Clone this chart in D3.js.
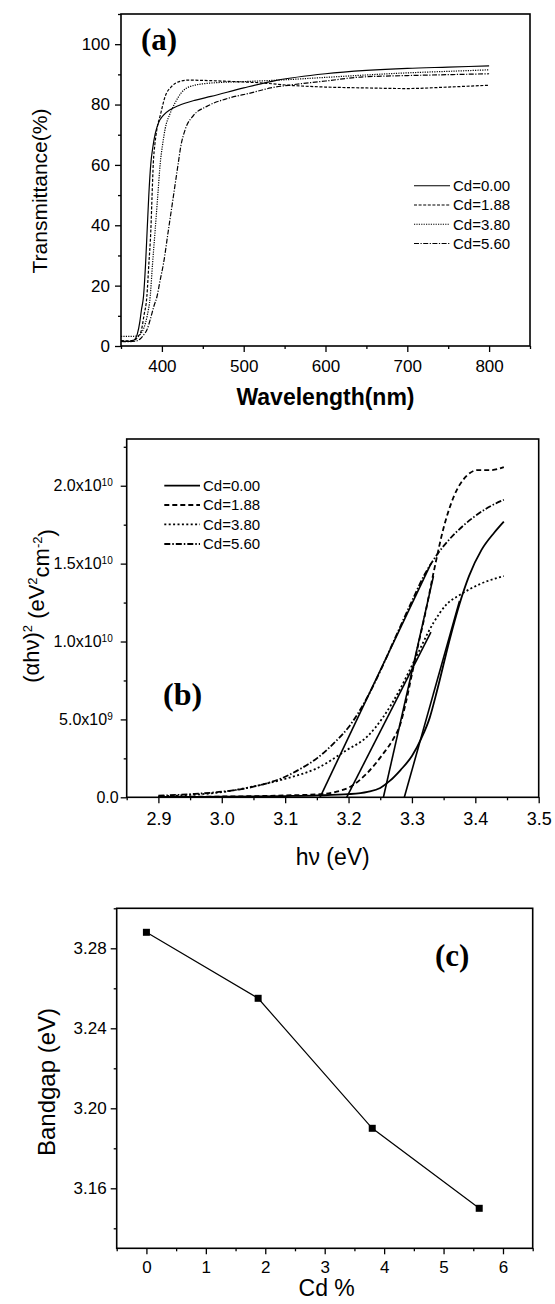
<!DOCTYPE html>
<html>
<head>
<meta charset="utf-8">
<style>
  body { margin: 0; background: #fff; }
  svg { display: block; font-family: "Liberation Sans", Arial, sans-serif; }
  .tick line { stroke: #000; stroke-width: 1.3; }
  .domain { display: none; }
  .tick text { fill: #000; }
  .frame { fill: none; stroke: #000; stroke-width: 1.6; }
  .curve { fill: none; stroke: #000; }
  .tag { font-family: "Liberation Serif", "Times New Roman", serif; font-weight: bold; }
</style>
</head>
<body>
<svg width="555" height="1304"></svg>
<script src="https://d3js.org/d3.v7.min.js"></script>
<script>
// ---- data ----
const cdLabels = ["Cd=0.00", "Cd=1.88", "Cd=3.80", "Cd=5.60"];

// (a) transmittance [wavelength nm, T %]
const transCd000 = [[350,1.6],[360,1.5],[366,2],[370,4],[373,8],[375,12],[377.5,16.4],[380,27],[382,38.5],[384,50],[386.5,60.6],[389,66],[392,70.5],[396,74],[402,76.5],[410,78.3],[420,79.6],[440,81.4],[460,82.7],[500,85.5],[540,88],[600,90.2],[650,91.3],[700,92],[750,92.4],[800,92.8]];
const transCd188 = [[350,1.8],[360,1.7],[368,2.2],[372,3.5],[375,5.3],[378,10],[381.6,16.4],[384,27],[386.5,38.5],[388,50],[389.5,60.6],[391.5,67],[394,72],[398,76.4],[404,82.7],[412,86],[422,87.7],[432,88.1],[450,88],[480,87.7],[520,87.2],[560,86.3],[600,85.8],[650,85.5],[700,85.3],[750,85.8],[800,86.4]];
const transCd380 = [[350,3.2],[360,3.2],[370,3.3],[374,4],[378,6],[382,10],[385.7,16.4],[388.5,27],[391.8,38.5],[395,50],[398,60.6],[401,67],[404,72],[410,77],[416,80.5],[424,84],[434.7,86],[459,87.1],[500,87.6],[550,88.2],[600,89],[650,89.8],[700,90.5],[750,91],[800,91.5]];
const transCd560 = [[350,1.5],[360,1.4],[368,1.6],[374,2.5],[378,3.8],[381.6,5.3],[386,9],[390,13],[394,16.4],[398,22],[402,27.4],[408,38.5],[414,49.5],[420,60.6],[423,66],[428.6,71.8],[438.7,76.4],[455,79.4],[480,82],[508,83.8],[533,85.5],[561,86.6],[600,87.8],[643,89.1],[700,89.6],[750,89.9],[800,90.2]];

// (b) (alpha h nu)^2 [eV, eV^2 cm^-2]
const absCd000 = [[2.9,0.02e9],[3.0,0.04e9],[3.1,0.08e9],[3.15,0.12e9],[3.2,0.2e9],[3.23,0.35e9],[3.25,0.6e9],[3.265,1.05e9],[3.282,1.75e9],[3.3,2.65e9],[3.315,3.8e9],[3.328,5.1e9],[3.34,6.9e9],[3.36,10.2e9],[3.375,12.4e9],[3.39,14.2e9],[3.41,15.9e9],[3.43,17.0e9],[3.445,17.7e9]];
const absCd188 = [[2.9,0.03e9],[3.0,0.05e9],[3.1,0.12e9],[3.155,0.2e9],[3.18,0.35e9],[3.203,0.68e9],[3.229,1.54e9],[3.255,2.82e9],[3.27,3.7e9],[3.282,4.74e9],[3.29,6.0e9],[3.3,7.9e9],[3.31,9.8e9],[3.32,11.6e9],[3.334,14.4e9],[3.35,17.3e9],[3.366,19.3e9],[3.387,20.66e9],[3.403,21.0e9],[3.424,21.0e9],[3.445,21.2e9]];
const absCd380 = [[2.9,0.06e9],[2.95,0.15e9],[3.0,0.33e9],[3.055,0.74e9],[3.103,1.22e9],[3.15,1.86e9],[3.197,3.03e9],[3.229,3.88e9],[3.255,5.17e9],[3.282,7.0e9],[3.303,8.7e9],[3.334,11.2e9],[3.355,12.4e9],[3.376,13.0e9],[3.408,13.7e9],[3.445,14.2e9]];
const absCd560 = [[2.9,0.1e9],[2.95,0.2e9],[3.0,0.36e9],[3.05,0.68e9],[3.1,1.32e9],[3.125,1.85e9],[3.15,2.5e9],[3.175,3.4e9],[3.2,4.5e9],[3.232,6.6e9],[3.25,8.1e9],[3.271,10.0e9],[3.3,12.6e9],[3.32,14.3e9],[3.34,15.6e9],[3.36,16.6e9],[3.38,17.4e9],[3.398,18.0e9],[3.42,18.6e9],[3.445,19.1e9]];

// tangent fits: x-intercept and upper end point
const fitIntercepts = [3.288, 3.255, 3.197, 3.155];
const fitEnds = [[3.375, 12.6e9], [3.334, 14.2e9], [3.33, 10.6e9], [3.33, 15.0e9]];

// (c) bandgap vs Cd %
const cdPercent = [0, 1.88, 3.80, 5.60];
const bandgap = [3.288, 3.255, 3.19, 3.15];

// ticks
const aXTicks = [400, 500, 600, 700, 800];
const aXMinor = [350, 450, 550, 650, 750, 850];
const aYTicks = [0, 20, 40, 60, 80, 100];
const aYMinor = [10, 30, 50, 70, 90, 110];
const bXTicks = [2.9, 3.0, 3.1, 3.2, 3.3, 3.4, 3.5];
const bXMinor = [2.85, 2.95, 3.05, 3.15, 3.25, 3.35, 3.45];
const bYTicks = [0, 5e9, 1e10, 1.5e10, 2e10];
const bYMinor = [2.5e9, 7.5e9, 1.25e10, 1.75e10, 2.25e10];
const bYTickLabels = [["0.0", ""], ["5.0x10", "9"], ["1.0x10", "10"], ["1.5x10", "10"], ["2.0x10", "10"]];
const cXTicks = [0, 1, 2, 3, 4, 5, 6];
const cXMinor = [-0.5, 0.5, 1.5, 2.5, 3.5, 4.5, 5.5, 6.5];
const cYTicks = [3.16, 3.20, 3.24, 3.28];
const cYMinor = [3.14, 3.18, 3.22, 3.26, 3.30];

const svg = d3.select("svg");

function drawAxes(x, y, box, cfg) {
    svg.append("g")
        .attr("transform", `translate(0,${box.bottom})`)
        .call(d3.axisBottom(x).tickValues(cfg.xTicks).tickSizeInner(6).tickSizeOuter(0)
            .tickPadding(cfg.xPad).tickFormat(cfg.xFmt))
        .call(g => g.selectAll("text").style("font-size", cfg.xFont + "px"))
    svg.append("g")
        .attr("transform", `translate(0,${box.bottom})`)
        .call(d3.axisBottom(x).tickValues(cfg.xMinor).tickSizeInner(3).tickSizeOuter(0).tickFormat(""))
    let yAxis = svg.append("g")
        .attr("transform", `translate(${box.left},0)`)
        .call(d3.axisLeft(y).tickValues(cfg.yTicks).tickSizeInner(6).tickSizeOuter(0)
            .tickPadding(cfg.yPad).tickFormat(cfg.yFmt))
        .call(g => g.selectAll("text").style("font-size", cfg.yFont + "px"))
    svg.append("g")
        .attr("transform", `translate(${box.left},0)`)
        .call(d3.axisLeft(y).tickValues(cfg.yMinor).tickSizeInner(3).tickSizeOuter(0).tickFormat(""))
    svg.append("rect")
        .attr("class", "frame")
        .attr("x", box.left).attr("y", box.top)
        .attr("width", box.right - box.left).attr("height", box.bottom - box.top)
    return yAxis
}

function legend(x0, x1, ys, dashes, width, fontSize) {
    cdLabels.forEach((lab, i) => {
        svg.append("line")
            .attr("x1", x0).attr("x2", x1).attr("y1", ys[i]).attr("y2", ys[i])
            .attr("stroke", "#000").attr("stroke-width", width)
            .attr("stroke-dasharray", dashes[i])
        svg.append("text")
            .attr("x", x1 + 3).attr("y", ys[i] + fontSize * 0.36)
            .style("font-size", fontSize + "px")
            .text(lab)
    })
}

// ---------------- panel (a) ----------------
const boxA = { left: 121, right: 530, top: 14, bottom: 346 };
const xA = d3.scaleLinear().domain([350, 850]).range([boxA.left, boxA.right]);
const yA = d3.scaleLinear().domain([0, 110]).range([boxA.bottom, boxA.top]);
drawAxes(xA, yA, boxA, {
    xTicks: aXTicks, xMinor: aXMinor, xPad: 8, xFont: 17, xFmt: d3.format("d"),
    yTicks: aYTicks, yMinor: aYMinor, yPad: 5, yFont: 17, yFmt: d3.format("d")
});
const dashA = [null, "3,1.6", "1.2,1.2", "5,1.5,1.2,1.5"];
const lineA = d3.line().x(d => xA(d[0])).y(d => yA(d[1])).curve(d3.curveMonotoneX);
[transCd000, transCd188, transCd380, transCd560].forEach((s, i) => {
    svg.append("path").attr("class", "curve").attr("d", lineA(s))
        .attr("stroke-width", 1.2).attr("stroke-dasharray", dashA[i])
});
legend(414, 450, [185.7, 205, 224.3, 243.5], dashA, 1.1, 15);
svg.append("text").attr("class", "tag").attr("x", 141).attr("y", 50)
    .style("font-size", "31px").text("(a)");
svg.append("text")
    .attr("transform", "translate(47,191) rotate(-90)")
    .attr("text-anchor", "middle").style("font-size", "21px")
    .text("Transmittance(%)");
svg.append("text")
    .attr("x", (boxA.left + boxA.right) / 2).attr("y", 405)
    .attr("text-anchor", "middle").style("font-size", "23px").style("font-weight", "bold")
    .text("Wavelength(nm)");

// ---------------- panel (b) ----------------
const boxB = { left: 126.7, right: 538.7, top: 439, bottom: 797.3 };
const xB = d3.scaleLinear().domain([2.85, 3.5]).range([boxB.left, boxB.right]);
const yB = d3.scaleLinear().domain([0, 2.3e10]).range([boxB.bottom, boxB.top]);
drawAxes(xB, yB, boxB, {
    xTicks: bXTicks, xMinor: bXMinor, xPad: 9, xFont: 18, xFmt: d3.format(".1f"),
    yTicks: bYTicks, yMinor: bYMinor, yPad: 3, yFont: 16, yFmt: ""
}).call(g => g.selectAll(".tick text").each(function (d, i) {
    const t = d3.select(this).text(null);
    const lab = bYTickLabels[i];
    t.append("tspan").text(lab[0]);
    if (lab[1]) {
        t.attr("x", -14);
        t.append("tspan").attr("dy", "-0.5em").style("font-size", "10px").text(lab[1]);
    } else {
        t.attr("x", -8);
    }
}));
const dashB = [null, "5,3", "2,2.4", "6,2,1.5,2"];
const lineB = d3.line().x(d => xB(d[0])).y(d => yB(d[1])).curve(d3.curveMonotoneX);
[absCd000, absCd188, absCd380, absCd560].forEach((s, i) => {
    svg.append("path").attr("class", "curve").attr("d", lineB(s))
        .attr("stroke-width", 1.8).attr("stroke-dasharray", dashB[i])
});
svg.append("g").selectAll("line")
    .data(fitIntercepts)
    .join("line")
    .attr("x1", d => xB(d)).attr("y1", yB(0))
    .attr("x2", (d, i) => xB(fitEnds[i][0])).attr("y2", (d, i) => yB(fitEnds[i][1]))
    .attr("stroke", "#000").attr("stroke-width", 1.6)
legend(164.3, 200, [485.7, 505, 524.3, 544], dashB, 1.8, 15);
svg.append("text").attr("class", "tag").attr("x", 163).attr("y", 705)
    .style("font-size", "32px").text("(b)");
const ylabB = svg.append("text")
    .attr("transform", "translate(39,606) rotate(-90)")
    .attr("text-anchor", "middle").style("font-size", "22px");
ylabB.append("tspan").text("(\u03b1h\u03bd)");
ylabB.append("tspan").attr("dy", "-0.55em").style("font-size", "13px").text("2");
ylabB.append("tspan").attr("dy", "0.55em").text(" (eV");
ylabB.append("tspan").attr("dy", "-0.55em").style("font-size", "13px").text("2");
ylabB.append("tspan").attr("dy", "0.55em").text("cm");
ylabB.append("tspan").attr("dy", "-0.55em").style("font-size", "13px").text("-2");
ylabB.append("tspan").attr("dy", "0.55em").text(")");
svg.append("text")
    .attr("x", (boxB.left + boxB.right) / 2).attr("y", 865)
    .attr("text-anchor", "middle").style("font-size", "23px")
    .text("h\u03bd (eV)");

// ---------------- panel (c) ----------------
const boxC = { left: 116.7, right: 532.7, top: 908.3, bottom: 1248.3 };
const xC = d3.scaleLinear().domain([-0.5, 6.5]).range([boxC.left, boxC.right]);
const yC = d3.scaleLinear().domain([3.13, 3.30]).range([boxC.bottom, boxC.top]);
drawAxes(xC, yC, boxC, {
    xTicks: cXTicks, xMinor: cXMinor, xPad: 7, xFont: 17, xFmt: d3.format("d"),
    yTicks: cYTicks, yMinor: cYMinor, yPad: 4, yFont: 17, yFmt: d3.format(".2f")
});
const gapData = cdPercent.map((c, i) => [c, bandgap[i]]);
svg.append("path").attr("class", "curve")
    .attr("d", d3.line().x(d => xC(d[0])).y(d => yC(d[1]))(gapData))
    .attr("stroke-width", 1.2);
svg.append("g").selectAll("rect")
    .data(gapData)
    .join("rect")
    .attr("x", d => xC(d[0]) - 3.5).attr("y", d => yC(d[1]) - 3.5)
    .attr("width", 7).attr("height", 7).attr("fill", "#000");
svg.append("text").attr("class", "tag").attr("x", 435).attr("y", 966)
    .style("font-size", "31px").text("(c)");
svg.append("text")
    .attr("transform", "translate(55,1082) rotate(-90)")
    .attr("text-anchor", "middle").style("font-size", "24px")
    .text("Bandgap (eV)");
svg.append("text")
    .attr("x", (boxC.left + boxC.right) / 2 + 2).attr("y", 1296)
    .attr("text-anchor", "middle").style("font-size", "23px")
    .text("Cd %");
</script>
</body>
</html>
